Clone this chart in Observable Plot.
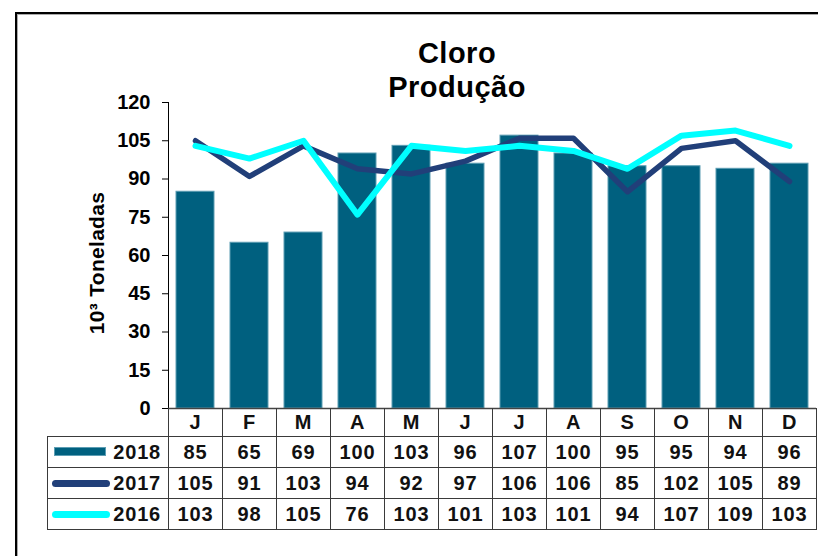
<!DOCTYPE html>
<html>
<head>
<meta charset="utf-8">
<script src="https://cdn.jsdelivr.net/npm/d3@7"></script>
<script src="https://cdn.jsdelivr.net/npm/@observablehq/plot@0.6"></script>
<style>
  html, body { margin: 0; padding: 0; background: #fff; overflow: hidden; }
  body { width: 818px; height: 556px; position: relative; font-family: "Liberation Sans", Arial, sans-serif; }
  #frame { position: absolute; left: 15px; top: 12px; width: 900px; height: 700px; border: 2px solid #000; box-shadow: inset 1px 1px 0 #aaa; }
  #title { position: absolute; left: 257px; width: 400px; top: 36px; text-align: center; font-weight: bold; font-size: 29px; line-height: 34px; color: #000; letter-spacing: 0.5px; }
  #ylabel { position: absolute; left: 97px; top: 263px; transform: translate(-50%, -50%) rotate(-90deg); white-space: nowrap; font-weight: bold; font-size: 21px; letter-spacing: 0.3px; color: #000; }
  #chart { position: absolute; left: 0; top: 0; }
  #chart svg g[aria-label="y-axis"] text { letter-spacing: 1px; }
  #tbl { position: absolute; left: 47px; top: 408px; border-collapse: collapse; table-layout: fixed; font-weight: bold; font-size: 20px; letter-spacing: 0.8px; color: #111; }
  #tbl td { border: 1.5px solid #3a3a3a; text-align: center; padding: 0; }
  #tbl tr.hdr td { height: 28px; border-top: none; }
  #tbl tr.hdr td.blank { border: none; }
  #tbl tr.row td { height: 30px; }
  #tbl td.leg { position: relative; text-align: right; padding-right: 7px; }
  .sw { position: absolute; left: 6px; top: 50%; }
</style>
</head>
<body>
<div id="frame"></div>
<div id="chart"></div>
<div id="title">Cloro<br>Produção</div>
<div id="ylabel">10³ Toneladas</div>
<table id="tbl"></table>
<script>
const monthKeys = ["jan","fev","mar","abr","mai","jun","jul","ago","set","out","nov","dez"];
const monthLabels = ["J","F","M","A","M","J","J","A","S","O","N","D"];
const seriesNames = ["2018","2017","2016"];
const v2018 = [85,65,69,100,103,96,107,100,95,95,94,96];
const v2017 = [105,91,103,94,92,97,106,106,85,102,105,89];
const v2016 = [103,98,105,76,103,101,103,101,94,107,109,103];
const yTicks = [0,15,30,45,60,75,90,105,120];

const colors = {"2018": "#00607f", "2017": "#213f79", "2016": "#00ffff"};

const d2018 = monthKeys.map((m, i) => ({m, v: v2018[i]}));
const d2017 = monthKeys.map((m, i) => ({m, v: v2017[i]}));
const d2016 = monthKeys.map((m, i) => ({m, v: v2016[i]}));

const chart = Plot.plot({
  width: 818,
  height: 420,
  marginTop: 102,
  marginBottom: 12,
  marginLeft: 168,
  marginRight: 2,
  style: {fontFamily: "Liberation Sans, Arial, sans-serif", fontSize: "20px", fontWeight: "bold", background: "transparent", color: "#000", overflow: "visible"},
  x: {domain: monthKeys, paddingInner: 0.3, paddingOuter: 0.15, axis: null},
  y: {domain: [0, 120], ticks: yTicks, tickSize: 6, tickPadding: 12, line: true, label: null, tickFormat: d => String(d)},
  marks: [
    Plot.barY(d2018, {x: "m", y: "v", fill: colors["2018"], stroke: "#5c9db3", strokeWidth: 1}),
    Plot.ruleY([0], {stroke: "#444", strokeWidth: 1.5}),
    Plot.line(d2017, {x: "m", y: "v", stroke: colors["2017"], strokeWidth: 5.5, strokeLinejoin: "round", strokeLinecap: "round"}),
    Plot.line(d2016, {x: "m", y: "v", stroke: colors["2016"], strokeWidth: 6, strokeLinejoin: "round", strokeLinecap: "round"})
  ]
});
chart.querySelectorAll("[aria-label='y-axis'] path, [aria-label='y-axis'] line").forEach(e => e.setAttribute("stroke", "#555"));
document.getElementById("chart").appendChild(chart);

// table columns sized from the Plot x scale
const xs = chart.scale("x");
const colW = (xs.range[1] - xs.range[0]) / monthKeys.length;
const legW = xs.range[0] - 47;

const tbl = document.getElementById("tbl");
let html = `<colgroup><col style="width:${legW}px">` + monthKeys.map(() => `<col style="width:${colW}px">`).join("") + `</colgroup>`;
html += `<tr class="hdr"><td class="blank"></td>` + monthLabels.map(l => `<td>${l}</td>`).join("") + `</tr>`;
const rows = {"2018": v2018, "2017": v2017, "2016": v2016};
for (const s of seriesNames) {
  let sw;
  if (s === "2018") sw = `<div class="sw" style="width:52px;height:9px;margin-top:-5px;background:${colors[s]};border:1px solid #5c9db3;box-sizing:border-box"></div>`;
  else sw = `<div class="sw" style="left:4px;width:58px;height:7px;margin-top:-3.5px;border-radius:4px;background:${colors[s]}"></div>`;
  html += `<tr class="row"><td class="leg">${sw}${s}</td>` + rows[s].map(v => `<td>${v}</td>`).join("") + `</tr>`;
}
tbl.innerHTML = html;
</script>
</body>
</html>
